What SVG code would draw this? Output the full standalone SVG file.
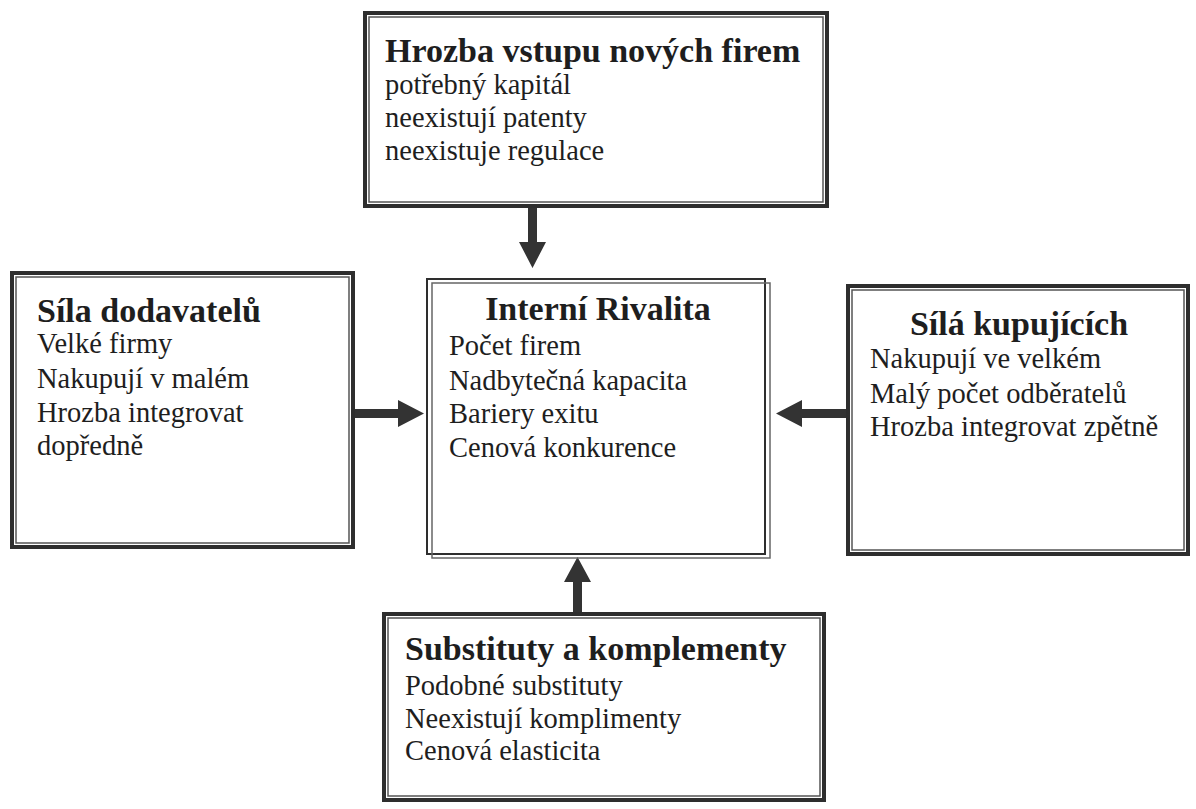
<svg xmlns="http://www.w3.org/2000/svg" width="1196" height="809" viewBox="0 0 1196 809">
<style>
.box{fill:#fff;stroke:#2e2e2e;stroke-width:4}
.inner{fill:none;stroke:#555;stroke-width:1.5}
.t{font-family:"Liberation Serif","Times New Roman",serif;font-weight:bold;font-size:34px;fill:#1e1e1e}
.b{font-family:"Liberation Serif","Times New Roman",serif;font-size:28.5px;fill:#1e1e1e}
.arr{fill:#333}
</style>
<rect width="1196" height="809" fill="#fff"/>
<g id="connectors">
<path class="arr" d="M528 207 H537 V242 H546 L532.5 268 L519 242 H528 Z"/>
<path class="arr" d="M355 409 H398 V400 L424 413.5 L398 427 V418 H355 Z"/>
<path class="arr" d="M848 409 H802 V400 L776 413.5 L802 427 V418 H848 Z"/>
<path class="arr" d="M573 612 H582 V582 H591 L577.5 557 L564 582 H573 Z"/>
</g>
<g id="node-hrozba">
<rect class="box" x="365" y="13" width="462" height="193"/>
<rect class="inner" x="369" y="17" width="454" height="185"/>
<text class="t" x="385" y="62">Hrozba vstupu nových firem</text>
<text class="b" x="385" y="94">potřebný kapitál</text>
<text class="b" x="385" y="127">neexistují patenty</text>
<text class="b" x="385" y="160">neexistuje regulace</text>
</g>
<g id="node-dodavatele">
<rect class="box" x="12" y="273" width="341" height="274"/>
<rect class="inner" x="16" y="277" width="333" height="266"/>
<text class="t" x="37" y="322">Síla dodavatelů</text>
<text class="b" x="37" y="353">Velké firmy</text>
<text class="b" x="37" y="388">Nakupují v malém</text>
<text class="b" x="37" y="422">Hrozba integrovat</text>
<text class="b" x="37" y="455">dopředně</text>
</g>
<g id="node-rivalita">
<rect x="427" y="279" width="338" height="275" fill="#fff" stroke="#2e2e2e" stroke-width="2"/>
<rect x="432" y="283" width="338" height="275" fill="none" stroke="#666" stroke-width="1.5"/>
<text class="t" x="598" y="320" text-anchor="middle">Interní Rivalita</text>
<text class="b" x="449" y="355">Počet firem</text>
<text class="b" x="449" y="390">Nadbytečná kapacita</text>
<text class="b" x="449" y="423">Bariery exitu</text>
<text class="b" x="449" y="457">Cenová konkurence</text>
</g>
<g id="node-kupujici">
<rect class="box" x="848" y="286" width="340" height="268"/>
<rect class="inner" x="852" y="290" width="332" height="260"/>
<text class="t" x="1019" y="335" text-anchor="middle">Sílá kupujících</text>
<text class="b" x="870" y="368">Nakupují ve velkém</text>
<text class="b" x="870" y="403">Malý počet odběratelů</text>
<text class="b" x="870" y="436">Hrozba integrovat zpětně</text>
</g>
<g id="node-substituty">
<rect class="box" x="384" y="614" width="440" height="186"/>
<rect class="inner" x="388" y="618" width="432" height="178"/>
<text class="t" x="405" y="660">Substituty a komplementy</text>
<text class="b" x="405" y="695">Podobné substituty</text>
<text class="b" x="405" y="728">Neexistují komplimenty</text>
<text class="b" x="405" y="760">Cenová elasticita</text>
</g>
</svg>
